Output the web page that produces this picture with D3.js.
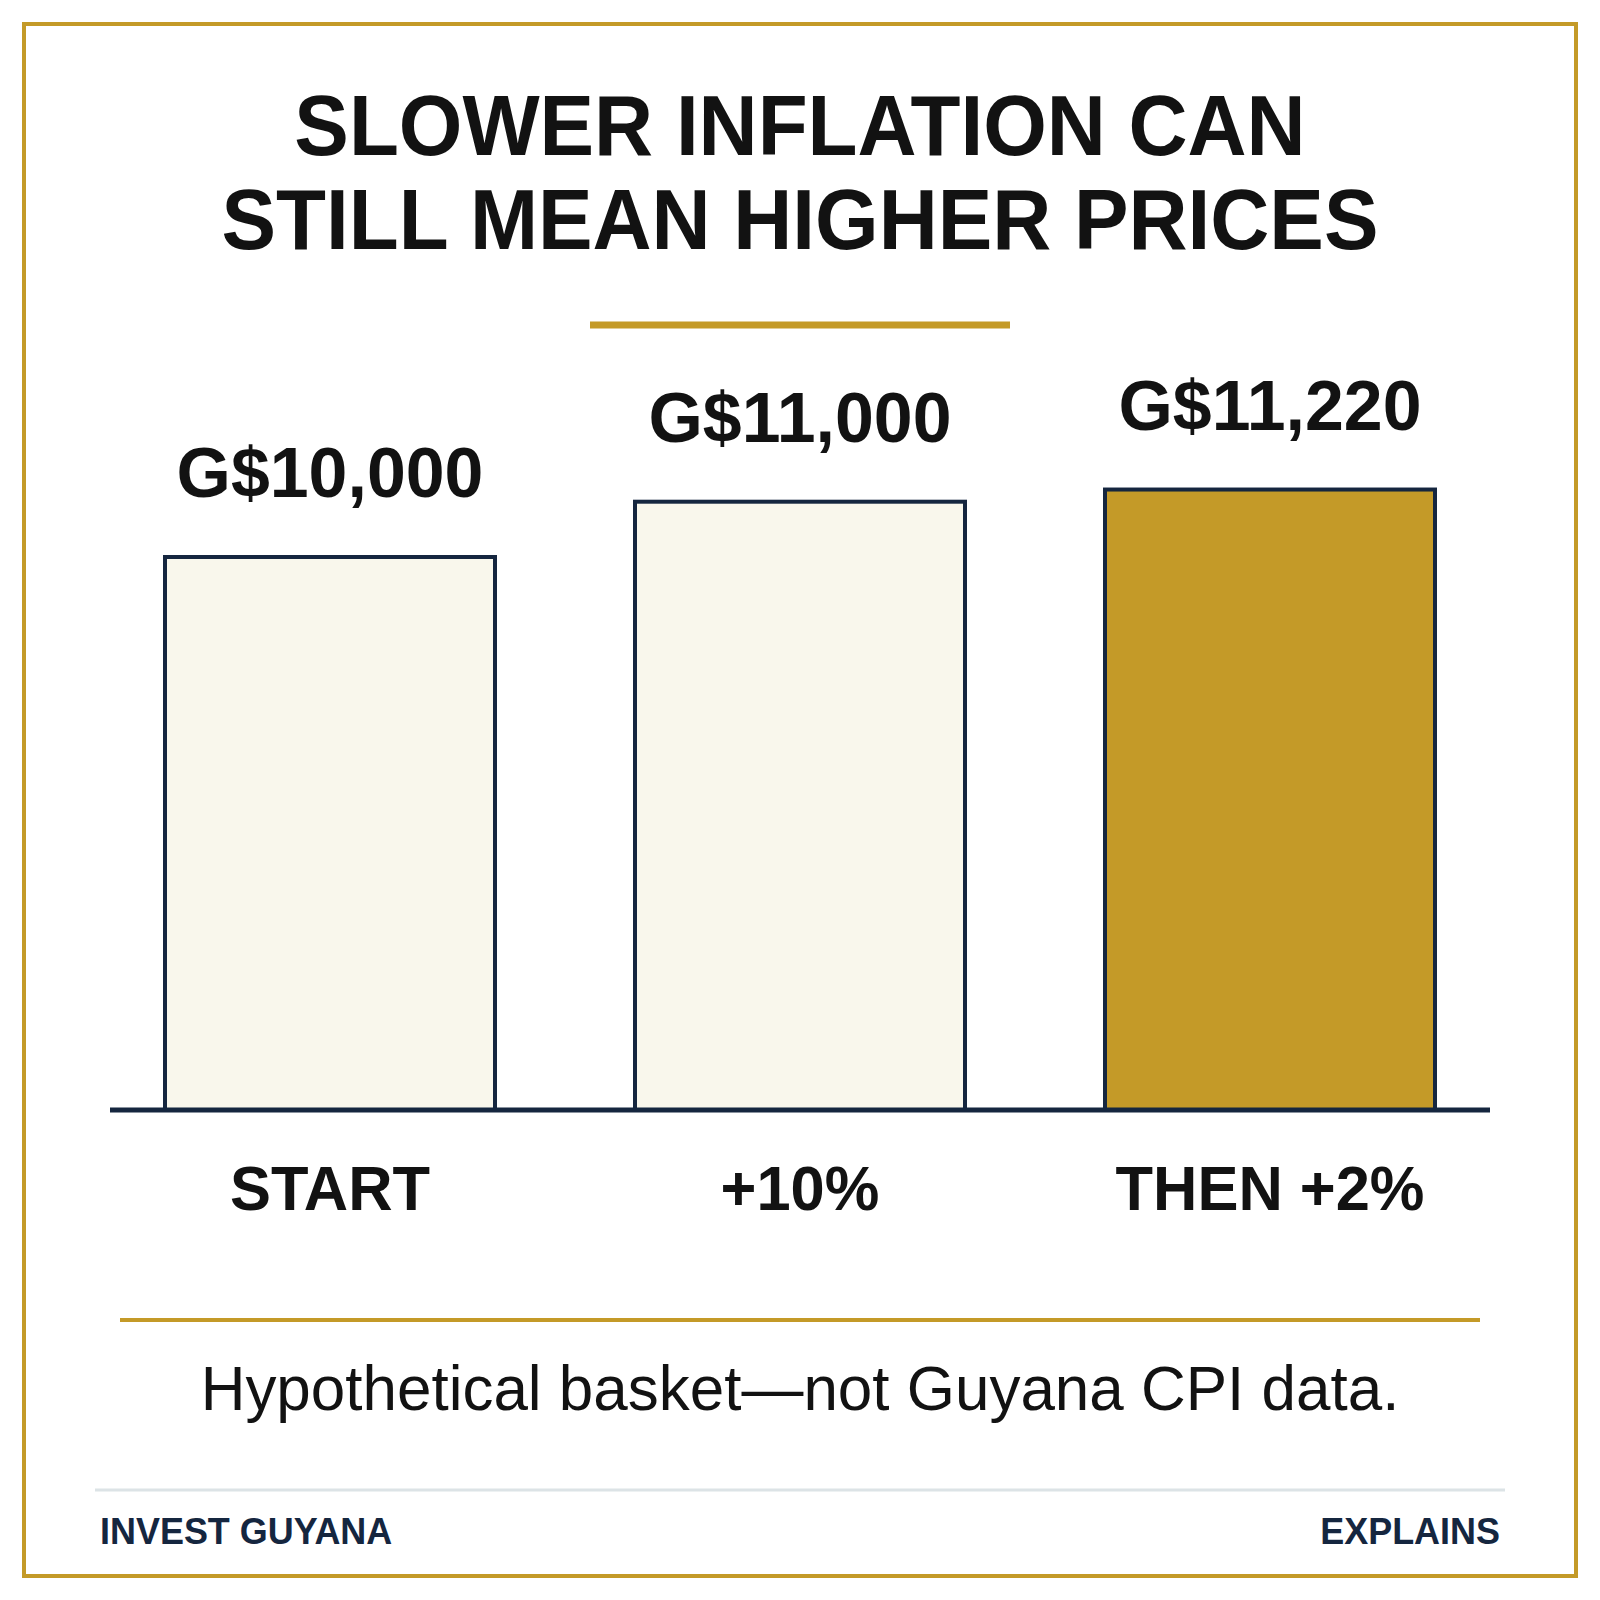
<!DOCTYPE html>
<html><head><meta charset="utf-8">
<script src="https://cdn.jsdelivr.net/npm/d3@7/dist/d3.min.js"></script>
<style>html,body{margin:0;padding:0;background:#fff}svg{display:block}text{font-family:"Liberation Sans",Arial,sans-serif}</style>
</head><body><div id="chart"></div>
<script>
const titleLines = ["SLOWER INFLATION CAN", "STILL MEAN HIGHER PRICES"];
const categories = ["START", "+10%", "THEN +2%"];
const values = [10000, 11000, 11220];
const barFills = ["#f9f7ec", "#f9f7ec", "#c49a28"];
const note = "Hypothetical basket\u2014not Guyana CPI data.";
const footerLeft = "INVEST GUYANA";
const footerRight = "EXPLAINS";

const gold = "#c49a28", navy = "#15263f", ink = "#121212";
const svg = d3.select("#chart").append("svg").attr("width", 1600).attr("height", 1600);
svg.append("rect").attr("width", 1600).attr("height", 1600).attr("fill", "#fff");
svg.append("rect").attr("x", 24).attr("y", 24).attr("width", 1552).attr("height", 1552)
  .attr("fill", "none").attr("stroke", gold).attr("stroke-width", 4);

svg.selectAll("text.title").data(titleLines).join("text").attr("class", "title")
  .attr("transform", (d, i) => `translate(800,${155 + i * 94}) scale(0.962,1)`).attr("text-anchor", "middle")
  .attr("font-size", 85).attr("font-weight", 700).attr("fill", ink).text(d => d);
svg.append("line").attr("x1", 590).attr("x2", 1010).attr("y1", 325).attr("y2", 325)
  .attr("stroke", gold).attr("stroke-width", 7);

const x = d3.scaleBand().domain(categories).range([95, 1505]).paddingInner(140 / 470).paddingOuter(70 / 470);
const y = d3.scaleLinear().domain([0, 12000]).range([1110, 446.4]);

svg.selectAll("rect.bar").data(values).join("rect").attr("class", "bar")
  .attr("x", (d, i) => x(categories[i])).attr("width", x.bandwidth())
  .attr("y", d => y(d)).attr("height", d => y(0) - y(d))
  .attr("fill", (d, i) => barFills[i]).attr("stroke", navy).attr("stroke-width", 4);

svg.selectAll("text.value").data(values).join("text").attr("class", "value")
  .attr("transform", (d, i) => `translate(${x(categories[i]) + x.bandwidth() / 2},${y(d) - 60}) scale(0.998,1)`)
  .attr("text-anchor", "middle").attr("font-size", 70).attr("font-weight", 700).attr("fill", ink)
  .text(d => "G$" + d3.format(",")(d));

const axis = svg.append("g").attr("transform", `translate(0,${y(0)})`)
  .call(d3.axisBottom(x).tickSize(0).tickPadding(50));
axis.select(".domain").remove();
axis.append("line").attr("x1", 110).attr("x2", 1490).attr("stroke", navy).attr("stroke-width", 5);
axis.selectAll(".tick text").attr("font-size", 62.5).attr("font-weight", 700).attr("fill", ink)
  .attr("font-family", '"Liberation Sans",Arial,sans-serif').attr("dy", null).attr("y", null)
  .attr("transform", "translate(0,99.5) scale(0.983,1)");

svg.append("line").attr("x1", 120).attr("x2", 1480).attr("y1", 1320).attr("y2", 1320)
  .attr("stroke", gold).attr("stroke-width", 4);
svg.append("text").attr("transform", "translate(800,1410) scale(0.976,1)").attr("text-anchor", "middle")
  .attr("font-size", 63.5).attr("fill", ink).text(note);
svg.append("line").attr("x1", 95).attr("x2", 1505).attr("y1", 1490).attr("y2", 1490)
  .attr("stroke", "#dce3e6").attr("stroke-width", 3);
svg.append("text").attr("transform", "translate(100,1544) scale(0.985,1)").attr("font-size", 36.5).attr("font-weight", 700)
  .attr("fill", navy).text(footerLeft);
svg.append("text").attr("transform", "translate(1500,1544) scale(0.985,1)").attr("text-anchor", "end").attr("font-size", 36.5)
  .attr("font-weight", 700).attr("fill", navy).text(footerRight);
</script></body></html>
